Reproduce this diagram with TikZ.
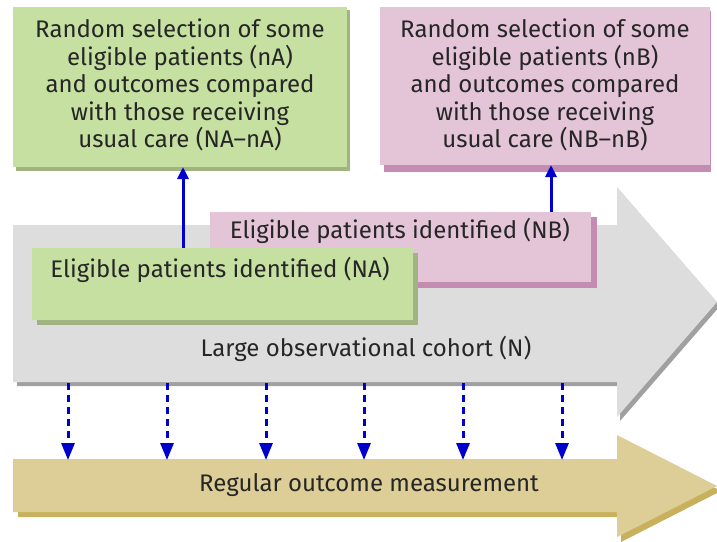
\documentclass[tikz,border=0pt]{standalone}
\usepackage{fontspec}
\setmainfont{Fira Sans}
\usetikzlibrary{arrows.meta}
\definecolor{gfill}{RGB}{198,224,162}
\definecolor{gshad}{RGB}{160,180,130}
\definecolor{pfill}{RGB}{227,197,215}
\definecolor{pshad}{RGB}{196,140,176}
\definecolor{greyfill}{RGB}{221,221,221}
\definecolor{greyshad}{RGB}{160,160,160}
\definecolor{tanfill}{RGB}{220,206,150}
\definecolor{tanshad}{RGB}{200,176,92}
\definecolor{arrblue}{RGB}{0,0,205}
\tikzset{
  lbl/.style={font=\fontsize{24}{27.5}\selectfont, text=black!85, align=center, inner sep=0pt},
  solidarr/.style={draw=arrblue, line width=3pt, -{Triangle[length=12pt,width=11pt]}},
  dasharr/.style={draw=arrblue, line width=3pt, dash pattern=on 7pt off 5pt, -{Triangle[length=17pt,width=13pt]}},
}
\begin{document}
\begin{tikzpicture}[x=1pt,y=-1pt]
\useasboundingbox (0,0) rectangle (717,541);
% grey cohort arrow
\fill[greyshad] (17,229) -- (620,229) -- (620,191) -- (720,306) -- (620,421) -- (620,386) -- (17,386) -- cycle;
\fill[greyfill] (13,225) -- (617,225) -- (617,187) -- (717,302) -- (617,417) -- (617,382) -- (13,382) -- cycle;
% tan outcome arrow
\fill[tanshad] (18,464) -- (621,464) -- (621,440) -- (721,491) -- (621,542) -- (621,517) -- (18,517) -- cycle;
\fill[tanfill] (13,459) -- (617,459) -- (617,435) -- (717,486) -- (617,537) -- (617,512) -- (13,512) -- cycle;
% top boxes
\fill[gshad] (16,10) rectangle (350,171);
\fill[gfill] (13,7) rectangle (347,167);
\node[lbl] (topA) at (180,85) {Random selection of some\\eligible patients (nA)\\and outcomes compared\\with those receiving\\usual care (NA--nA)};
\fill[pshad] (384,11) rectangle (711,172);
\fill[pfill] (380,7) rectangle (710,165);
\node[lbl] (topB) at (545,85) {Random selection of some\\eligible patients (nB)\\and outcomes compared\\with those receiving\\usual care (NB--nB)};
% eligible NB
\fill[pshad] (215,217) rectangle (597,288);
\fill[pfill] (210,212) rectangle (591,282);
\node[lbl] (eB) at (400,231) {Eligible patients identified (NB)};
% eligible NA
\fill[gshad] (37,253) rectangle (418,325);
\fill[gfill] (32,248) rectangle (413,320);
\node[lbl] (eA) at (220,270) {Eligible patients identified (NA)};
% labels
\node[lbl] (coh) at (366,349) {Large observational cohort (N)};
\node[lbl] (reg) at (369,485) {Regular outcome measurement};
% solid arrows
\coordinate (aA1) at (183,248);
\coordinate (aA2) at (183,167);
\coordinate (aB1) at (551,212);
\coordinate (aB2) at (551,165);
\draw[solidarr] (aA1) -- (aA2);
\draw[solidarr] (aB1) -- (aB2);
% dashed arrows
\foreach \i/\x in {1/68,2/167,3/266,4/364,5/463,6/562}{
  \coordinate (g\i) at (\x,383);
  \coordinate (t\i) at (\x,460);
  \draw[dasharr] (g\i) -- (t\i);
}
\end{tikzpicture}
\end{document}
